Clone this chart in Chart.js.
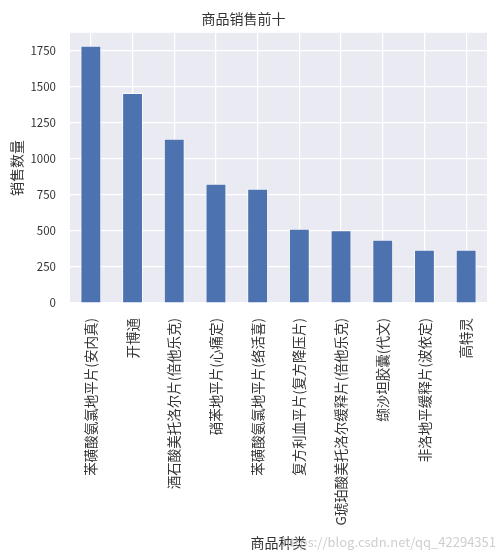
<!DOCTYPE html>
<html>
<head>
<meta charset="utf-8">
<script src="https://cdn.jsdelivr.net/npm/chart.js@4"></script>
<style>
  html, body { margin: 0; padding: 0; background: #fff; }
  #wrap { width: 502px; height: 559px; }
</style>
</head>
<body>
<div id="wrap"><canvas id="salesChart"></canvas></div>
<script>
const categories = [
  "苯磺酸氨氯地平片(安内真)",
  "开博通",
  "酒石酸美托洛尔片(倍他乐克)",
  "硝苯地平片(心痛定)",
  "苯磺酸氨氯地平片(络活喜)",
  "复方利血平片(复方降压片)",
  "G琥珀酸美托洛尔缓释片(倍他乐克)",
  "缬沙坦胶囊(代文)",
  "非洛地平缓释片(波依定)",
  "高特灵"
];
const salesCounts = [1786, 1458, 1139, 827, 793, 515, 504, 439, 370, 370];
const yTicks = [0, 250, 500, 750, 1000, 1250, 1500, 1750];

const FONT = "'Noto Sans CJK SC', 'DejaVu Sans', sans-serif";
const TEXT = "#333333";

// seaborn-like grey plot background
const plotBackground = {
  id: "plotBackground",
  beforeDraw(chart) {
    const { ctx, chartArea: a } = chart;
    ctx.save();
    ctx.fillStyle = "#EAEAF2";
    ctx.fillRect(a.left, a.top, a.right - a.left, a.bottom - a.top);
    ctx.restore();
  },
};

// faint csdn watermark
const watermark = {
  id: "watermark",
  afterDraw(chart) {
    const ctx = chart.ctx;
    ctx.save();
    ctx.font = "13px " + FONT;
    ctx.fillStyle = "rgba(190,190,190,0.75)";
    ctx.textAlign = "right";
    ctx.textBaseline = "middle";
    ctx.fillText("https://blog.csdn.net/qq_42294351", 496, 542);
    ctx.restore();
  },
};

const ctx = document.getElementById("salesChart");
new Chart(ctx, {
  type: "bar",
  data: {
    labels: categories,
    datasets: [
      {
        data: salesCounts,
        backgroundColor: "#4C72B0",
        borderColor: "rgba(255,255,255,0.7)",
        borderWidth: 1,
        barPercentage: 0.5,
        categoryPercentage: 1,
      },
    ],
  },
  plugins: [plotBackground, watermark],
  options: {
    responsive: true,
    maintainAspectRatio: false,
    animation: false,
    layout: {
      padding: { left: 0, right: 15, top: 0, bottom: 0 },
    },
    plugins: {
      legend: { display: false },
      tooltip: { enabled: false },
      title: {
        display: true,
        text: "商品销售前十",
        color: TEXT,
        font: { family: FONT, size: 14, weight: "normal" },
        padding: { top: 10, bottom: 6 },
      },
    },
    scales: {
      x: {
        offset: true,
        border: { display: false },
        grid: {
          offset: false,
          color: "#ffffff",
          lineWidth: 1.2,
          drawTicks: false,
        },
        ticks: {
          autoSkip: false,
          minRotation: 90,
          maxRotation: 90,
          padding: 15,
          color: TEXT,
          font: { family: FONT, size: 13.5 },
        },
        title: {
          display: true,
          text: "商品种类",
          color: TEXT,
          font: { family: FONT, size: 14 },
          padding: { top: 4, bottom: 8 },
        },
        afterFit(scale) {
          scale.height = 256;
        },
      },
      y: {
        min: 0,
        max: 1875,
        border: { display: false },
        grid: {
          color: "#ffffff",
          lineWidth: 1.2,
          drawTicks: false,
        },
        afterBuildTicks(scale) {
          scale.ticks = yTicks.map((v) => ({ value: v }));
        },
        ticks: {
          padding: 14,
          color: TEXT,
          font: { family: FONT, size: 11.5 },
          callback: function (value) {
            return String(value);
          },
        },
        title: {
          display: true,
          text: "销售数量",
          color: TEXT,
          font: { family: FONT, size: 14 },
          padding: { top: 8, bottom: 4 },
        },
        afterFit(scale) {
          scale.width = 70;
        },
      },
    },
  },
});
</script>
</body>
</html>
